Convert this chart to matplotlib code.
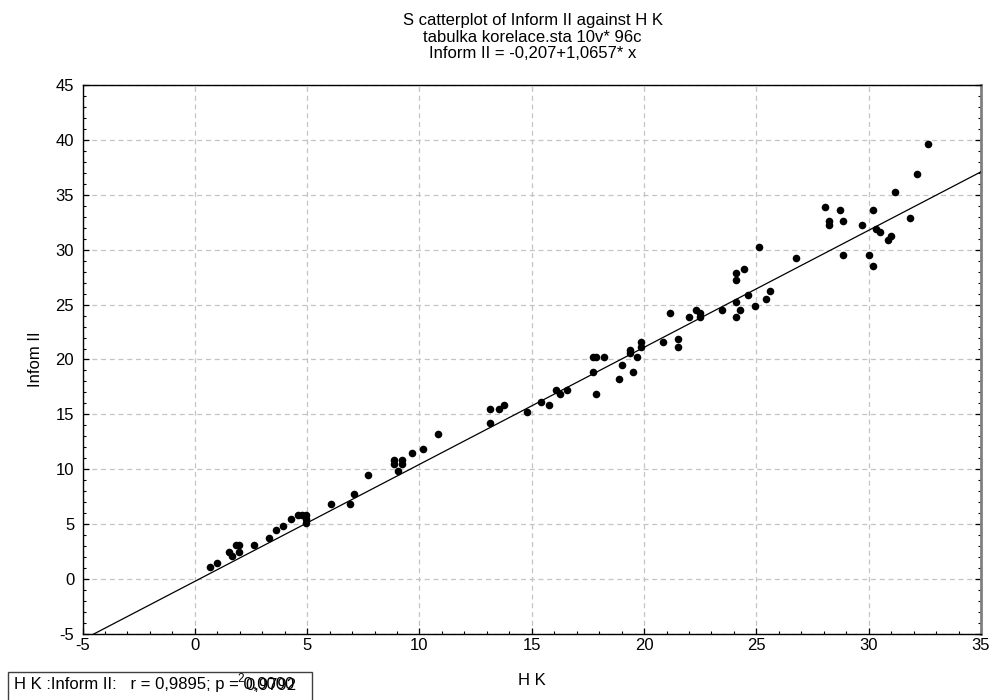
import matplotlib
matplotlib.use("Agg")
import matplotlib.pyplot as plt
from matplotlib.ticker import MultipleLocator
from matplotlib.patches import Rectangle
import numpy as np

plt.rcParams['font.family'] = ['Liberation Sans', 'DejaVu Sans']
plt.rcParams['axes.unicode_minus'] = False

hk = [0.68, 0.98, 1.52, 1.64, 1.82, 1.98, 1.98, 2.64, 3.30, 3.62, 3.94, 4.28, 4.61, 4.79,
      4.94, 4.94, 4.94, 6.08, 6.90, 7.07, 7.71, 8.87, 8.87, 9.21, 9.21, 9.05, 9.68, 10.17,
      10.84, 13.14, 13.54, 13.14, 13.78, 14.78, 15.43, 15.76, 16.08, 16.25, 16.57, 17.72,
      17.88, 18.22, 17.72, 17.88, 18.87, 19.03, 19.36, 19.36, 19.52, 19.69, 19.85, 19.85,
      20.83, 21.16, 21.50, 21.50, 21.99, 22.32, 22.48, 22.48, 23.46, 24.11, 24.27, 24.11,
      24.62, 24.11, 24.11, 24.44, 24.94, 25.42, 25.60, 25.11, 26.75, 28.06, 28.22, 28.22,
      28.71, 28.87, 28.87, 29.69, 30.02, 30.18, 30.18, 30.34, 30.52, 30.85, 31.01, 31.18,
      31.83, 32.16, 32.65]
inform = [1.14, 1.45, 2.45, 2.14, 3.11, 3.11, 2.45, 3.11, 3.77, 4.44, 4.81, 5.45, 5.84, 5.84,
          5.84, 5.47, 5.14, 6.81, 6.81, 7.77, 9.47, 10.87, 10.50, 10.87, 10.50, 9.84, 11.50, 11.84,
          13.17, 15.50, 15.50, 14.20, 15.87, 15.20, 16.17, 15.87, 17.20, 16.87, 17.20, 20.20,
          20.20, 20.20, 18.84, 16.87, 18.20, 19.50, 20.87, 20.57, 18.84, 20.20, 21.57, 21.17,
          21.57, 24.20, 21.87, 21.17, 23.87, 24.53, 24.20, 23.87, 24.53, 25.21, 24.55, 23.89,
          25.89, 27.89, 27.22, 28.25, 24.89, 25.55, 26.22, 30.25, 29.22, 33.91, 32.59, 32.22,
          33.59, 32.59, 29.55, 32.22, 29.55, 33.59, 28.55, 31.91, 31.59, 30.89, 31.22, 35.25,
          32.91, 36.91, 39.60]

intercept = -0.207
slope = 1.0657
x_ticks = [-5, 0, 5, 10, 15, 20, 25, 30, 35]
y_ticks = [-5, 0, 5, 10, 15, 20, 25, 30, 35, 40, 45]

title_lines = ["S catterplot of Inform II against H K",
               "tabulka korelace.sta 10v* 96c",
               "Inform II = -0,207+1,0657* x"]

FS = 12

fig = plt.figure(figsize=(9.92, 7.0), dpi=100)
ax = fig.add_axes([0.0832, 0.0943, 0.9889 - 0.0832, 0.8786 - 0.0943])

ax.set_xlim(-5, 35)
ax.set_ylim(-5, 45)
ax.set_xticks(x_ticks)
ax.set_yticks(y_ticks)
ax.xaxis.set_minor_locator(MultipleLocator(1))
ax.yaxis.set_minor_locator(MultipleLocator(1))

ax.grid(True, which='major', color='#c4c4c4', linestyle=(0, (4, 3)), linewidth=0.9)
ax.set_axisbelow(True)

xl = np.array([-5, 35])
ax.plot(xl, intercept + slope * xl, color='black', linewidth=0.9, zorder=3)
ax.scatter(hk, inform, s=30, color='black', zorder=4, linewidths=0)

ax.tick_params(axis='both', which='major', direction='in', length=4, width=0.9,
               labelsize=FS, pad=3, right=True, top=False)
ax.tick_params(axis='y', which='major', pad=6)
ax.tick_params(axis='both', which='minor', direction='in', length=2.5, width=0.8,
               right=True, top=False)

for s in ['left', 'bottom', 'top']:
    ax.spines[s].set_color('black')
    ax.spines[s].set_linewidth(1.0)
ax.spines['right'].set_color('#808080')
ax.spines['right'].set_linewidth(2.0)

ax.set_xlabel("H K", fontsize=FS, labelpad=14)
ax.set_ylabel("Infom II", fontsize=FS, labelpad=9)

for i, line in enumerate(title_lines):
    fig.text(0.537, 1 - (20 + 17 * i) / 700, line, ha='center', va='center', fontsize=FS)

fig.patches.append(Rectangle((8 / 992, -0.01), (312 - 8) / 992, (700 - 672) / 700 + 0.01,
                             transform=fig.transFigure, fill=False, edgecolor='#404040',
                             linewidth=1.0))
ty = 1 - 685 / 700
t_main = fig.text(14 / 992, ty, "H K :Inform II:   r = 0,9895; p = 0,0000",
                  ha='left', va='center', fontsize=FS)
t_pre = fig.text(14 / 992, ty, "H K :Inform II:   r = 0,9895; p = ",
                 ha='left', va='center', fontsize=FS, alpha=0)
fig.canvas.draw()
bb = t_pre.get_window_extent()
x_end = bb.x1 / fig.bbox.width
fig.text(x_end - 6 / 992, ty + 6 / 700, "2", ha='left', va='center', fontsize=FS * 0.7)
fig.text(x_end + 2 / 992, ty, "0,9792", ha='left', va='center', fontsize=FS)

fig.savefig("out.png", dpi=100)
